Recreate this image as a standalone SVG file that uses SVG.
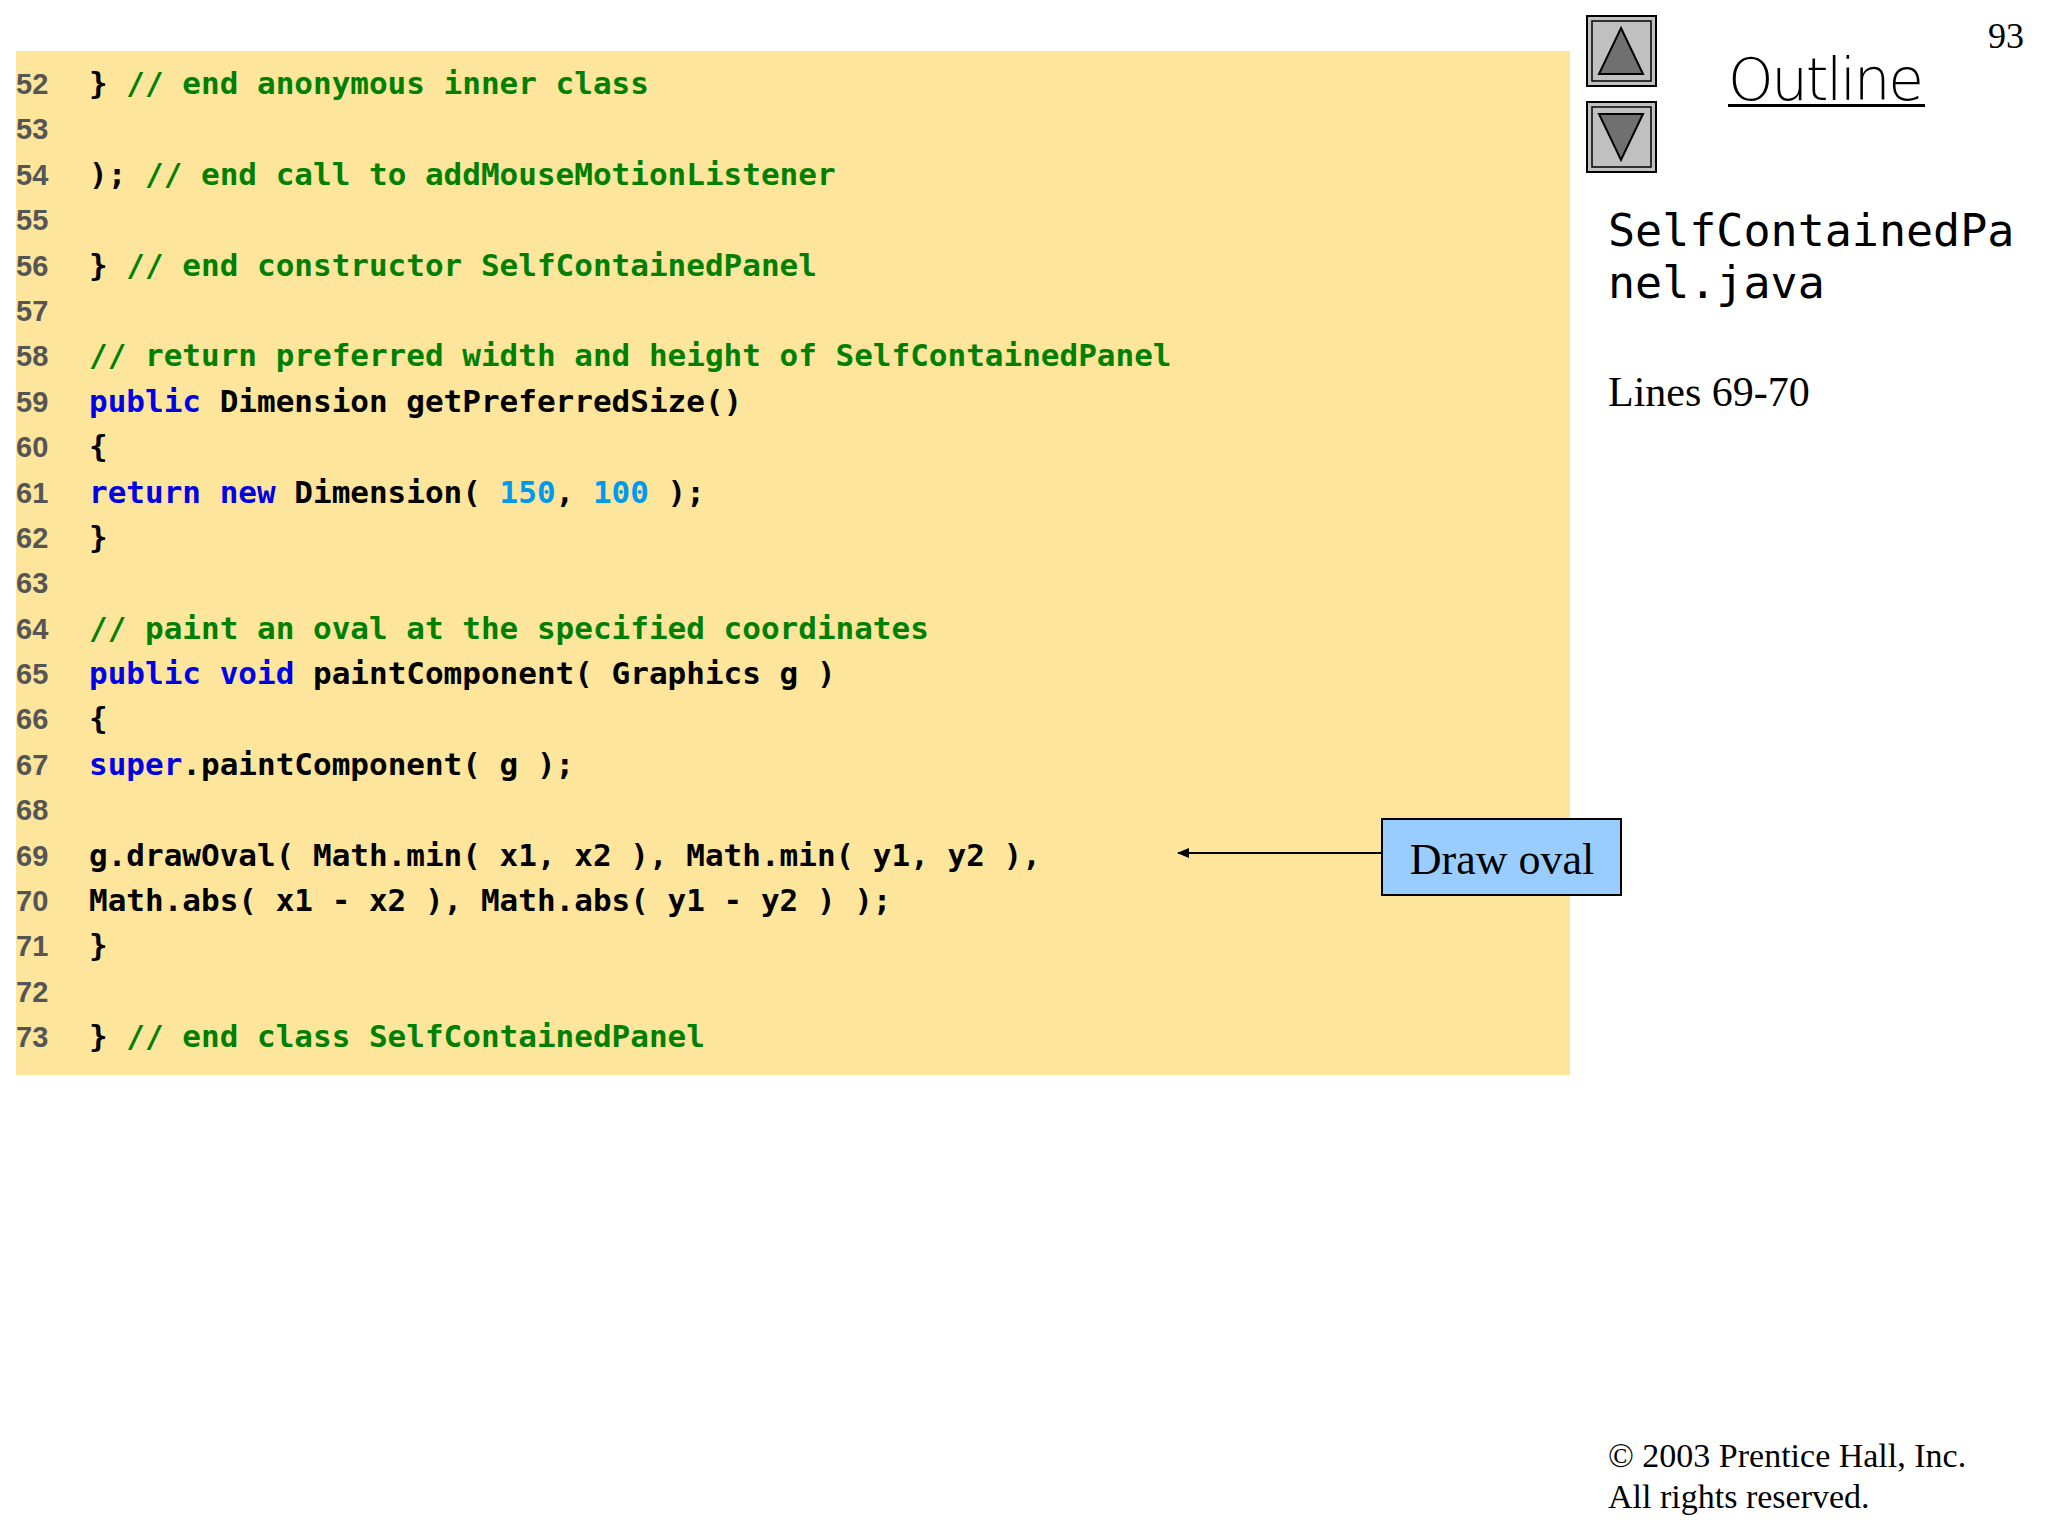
<svg xmlns="http://www.w3.org/2000/svg" width="2048" height="1536" viewBox="0 0 2048 1536">
<style>
.code{font-family:"DejaVu Sans Mono",monospace;font-weight:bold;font-size:31px;fill:#000;white-space:pre}
.ln{font-family:"Liberation Sans",Arial,sans-serif;font-weight:bold;font-size:29px;fill:#555}
.c{fill:#008000}.k{fill:#0000e6}.n{fill:#0099ee}
.serif{font-family:"Liberation Serif","Times New Roman",serif;fill:#000}
.btn{fill:#c0c0c0;stroke:#000;stroke-width:2}
.tri{fill:#707070;stroke:#000;stroke-width:2}
</style>
<defs><marker id="ah" markerWidth="12" markerHeight="10" refX="11" refY="5" orient="auto" markerUnits="userSpaceOnUse"><path d="M0,0 L12,5 L0,10 Z" fill="#000"/></marker></defs>
<rect x="16" y="51" width="1554" height="1024" fill="#fde59c"/>
<g id="linenums" class="ln">
<text x="16" y="94">52</text><text x="16" y="139">53</text><text x="16" y="185">54</text><text x="16" y="230">55</text><text x="16" y="276">56</text><text x="16" y="321">57</text><text x="16" y="366">58</text><text x="16" y="412">59</text><text x="16" y="457">60</text><text x="16" y="503">61</text><text x="16" y="548">62</text><text x="16" y="593">63</text><text x="16" y="639">64</text><text x="16" y="684">65</text><text x="16" y="729">66</text><text x="16" y="775">67</text><text x="16" y="820">68</text><text x="16" y="866">69</text><text x="16" y="911">70</text><text x="16" y="956">71</text><text x="16" y="1002">72</text><text x="16" y="1047">73</text>
</g>
<g id="code" class="code" xml:space="preserve">
<text x="89" y="94">         } <tspan class="c">// end anonymous inner class</tspan></text>
<text x="89" y="185">      ); <tspan class="c">// end call to addMouseMotionListener</tspan></text>
<text x="89" y="276">   } <tspan class="c">// end constructor SelfContainedPanel</tspan></text>
<text x="89" y="366">   <tspan class="c">// return preferred width and height of SelfContainedPanel</tspan></text>
<text x="89" y="412">   <tspan class="k">public</tspan> Dimension getPreferredSize()</text>
<text x="89" y="457">   {</text>
<text x="89" y="503">      <tspan class="k">return new</tspan> Dimension( <tspan class="n">150</tspan>, <tspan class="n">100</tspan> );</text>
<text x="89" y="548">   }</text>
<text x="89" y="639">   <tspan class="c">// paint an oval at the specified coordinates</tspan></text>
<text x="89" y="684">   <tspan class="k">public void</tspan> paintComponent( Graphics g )</text>
<text x="89" y="729">   {</text>
<text x="89" y="775">      <tspan class="k">super</tspan>.paintComponent( g );</text>
<text x="89" y="866">      g.drawOval( Math.min( x1, x2 ), Math.min( y1, y2 ),</text>
<text x="89" y="911">         Math.abs( x1 - x2 ), Math.abs( y1 - y2 ) );</text>
<text x="89" y="956">   }</text>
<text x="89" y="1047">} <tspan class="c">// end class SelfContainedPanel</tspan></text>
</g>
<g id="nav">
<rect class="btn" x="1587" y="16" width="69" height="70"/><rect x="1592" y="21" width="59" height="60" fill="none" stroke="#000" stroke-width="1.5"/>
<polygon class="tri" points="1621,28 1643,74 1599,74"/>
<rect class="btn" x="1587" y="102" width="69" height="70"/><rect x="1592" y="107" width="59" height="60" fill="none" stroke="#000" stroke-width="1.5"/>
<polygon class="tri" points="1599,114 1643,114 1621,160"/>
</g>
<text x="1988" y="48" class="serif" font-size="36">93</text>
<text x="1728" y="100" font-family="'DejaVu Sans',sans-serif" font-weight="300" font-size="58" textLength="196" fill="#000">Outline</text>
<rect x="1728" y="104" width="197" height="3" fill="#000"/>
<text x="1608" y="246" font-family="'DejaVu Sans Mono',monospace" font-size="45" fill="#000">SelfContainedPa</text>
<text x="1608" y="298" font-family="'DejaVu Sans Mono',monospace" font-size="45" fill="#000">nel.java</text>
<text x="1608" y="406" class="serif" font-size="42">Lines 69-70</text>
<g id="connectors"><line x1="1382" y1="853" x2="1178" y2="853" stroke="#000" stroke-width="2" marker-end="url(#ah)"/></g>
<g id="drawoval"><rect x="1382" y="819" width="239" height="76" fill="#99ccff" stroke="#000" stroke-width="2"/>
<text x="1502" y="874" class="serif" font-size="44" text-anchor="middle">Draw oval</text></g>
<text x="1608" y="1467" class="serif" font-size="34">© 2003 Prentice Hall, Inc.</text>
<text x="1608" y="1508" class="serif" font-size="34">All rights reserved.</text>
</svg>
